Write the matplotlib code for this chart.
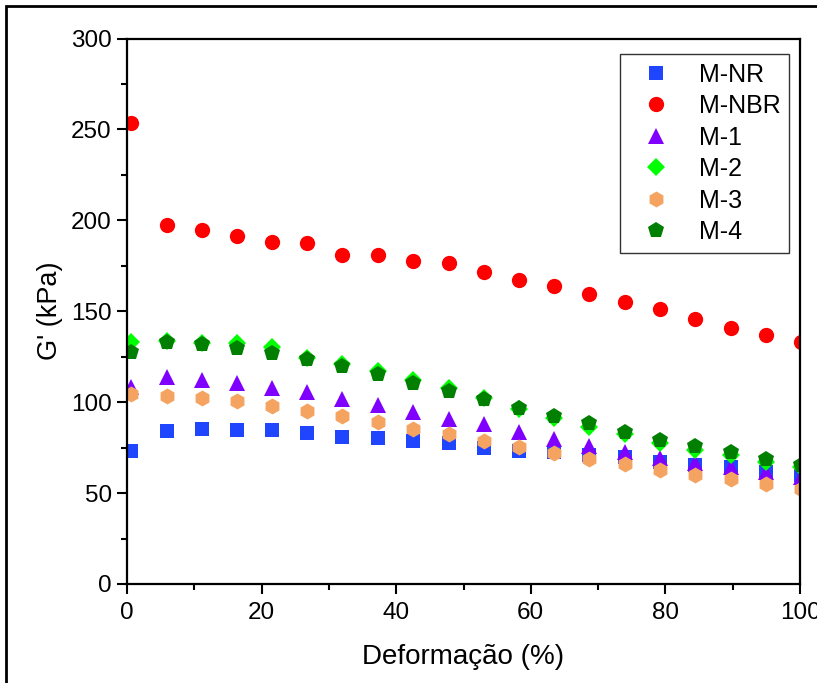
import matplotlib.pyplot as plt
from matplotlib.patches import Rectangle

plt.rcParams['font.family'] = ['Liberation Sans', 'DejaVu Sans']

#-----------------------------------------------------------------------------#
# data

strain = [0.6, 5.9, 11.1, 16.3, 21.6, 26.8, 32.0, 37.3, 42.5, 47.8,
          53.0, 58.2, 63.5, 68.7, 74.0, 79.2, 84.4, 89.7, 94.9, 100.1]

g_nr = [73.3, 84.3, 85.3, 84.9, 84.5, 82.9, 81.0, 80.1, 78.8, 77.7,
        75.0, 73.3, 72.8, 71.0, 70.0, 67.3, 65.5, 64.2, 61.8, 60.0]
g_nbr = [253.4, 197.5, 194.7, 191.4, 188.0, 187.8, 181.2, 181.2, 177.8, 176.7,
         171.4, 167.2, 163.9, 159.3, 155.1, 151.4, 145.8, 141.0, 136.8, 133.1]
g_m1 = [108.5, 113.7, 112.2, 110.4, 108.0, 105.4, 101.9, 98.3, 94.6, 90.6,
        87.8, 83.8, 79.6, 75.9, 72.4, 69.1, 66.4, 64.2, 61.8, 59.0]
g_m2 = [133.3, 133.6, 132.3, 132.7, 130.5, 124.2, 121.0, 117.0, 112.0, 108.0,
        102.2, 96.1, 91.1, 86.5, 82.5, 77.4, 73.7, 71.0, 67.3, 64.2]
g_m3 = [104.3, 103.4, 102.3, 100.5, 97.9, 95.3, 92.4, 89.3, 85.4, 82.5,
        78.7, 75.5, 71.9, 68.6, 66.0, 62.7, 60.0, 57.6, 54.8, 52.3]
g_m4 = [127.4, 133.1, 132.0, 129.6, 127.2, 123.8, 120.1, 115.7, 110.4, 106.2,
        101.6, 97.0, 92.6, 88.4, 83.8, 79.2, 75.9, 72.4, 68.9, 65.5]

series = [
    ('M-NR', g_nr, 's', '#1f45ff', 9.5),
    ('M-NBR', g_nbr, 'o', '#ff0000', 11),
    ('M-1', g_m1, '^', '#8000ff', 11),
    ('M-2', g_m2, 'D', '#00ff00', 9),
    ('M-3', g_m3, 'h', '#f4a460', 11.5),
    ('M-4', g_m4, 'p', '#007f00', 12),
]

#-----------------------------------------------------------------------------#
# plot

fig = plt.figure(figsize=(8.17, 6.83), dpi=100)
ax = fig.add_axes([127 / 817, 1 - 584 / 683, 673 / 817, 545.5 / 683])

for name, vals, mk, col, ms in series:
    ax.plot(strain, vals, linestyle='none', marker=mk, color=col,
            markersize=ms, markeredgewidth=0, label=name)

ax.set_xlim(0, 100)
ax.set_ylim(0, 300)
ax.set_xticks(range(0, 101, 20))
ax.set_xticks(range(10, 100, 20), minor=True)
ax.set_yticks(range(0, 301, 50))
ax.set_yticks(range(25, 300, 50), minor=True)

for sp in ax.spines.values():
    sp.set_linewidth(1.6)
ax.tick_params(which='major', direction='out', length=7, width=1.5,
               labelsize=17.5, pad=4)
ax.tick_params(axis='x', which='major', pad=6)
ax.tick_params(which='minor', direction='out', length=4, width=1.5)

ax.set_xlabel('Deformação (%)', fontsize=20, labelpad=14)
ax.set_ylabel("G' (kPa)", fontsize=19.5, labelpad=6)

leg = ax.legend(loc='upper right', bbox_to_anchor=(0.9837, 0.9716),
                borderaxespad=0, fontsize=18, frameon=True, fancybox=False,
                framealpha=1, edgecolor='#333333', labelspacing=0.3,
                handlelength=2.2, handletextpad=0.6, borderpad=0.35)
leg.get_frame().set_linewidth(1.0)

# black frame round the whole picture
fig.patches.append(Rectangle((6 / 817, -0.1), 1.2, 1.1 - 6 / 683,
                             transform=fig.transFigure, fill=False,
                             edgecolor='black', linewidth=2, clip_on=False))

fig.savefig('out.png', dpi=100)
